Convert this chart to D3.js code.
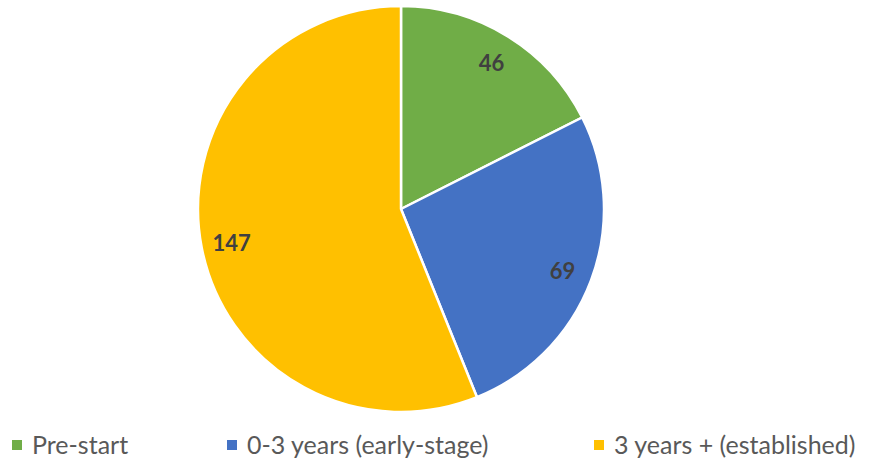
<!DOCTYPE html>
<html>
<head>
<meta charset="utf-8">
<script src="https://cdn.jsdelivr.net/npm/d3@7"></script>
<style>
  body { margin: 0; background: #fff; }
  svg { display: block; font-family: Lato, "Open Sans", sans-serif; }
</style>
</head>
<body>
<svg width="869" height="464"></svg>
<script>
	//data
	let categories = ["Pre-start", "0-3 years (early-stage)", "3 years + (established)"];
	let values = [46, 69, 147];
	let colorList = ["#70AD47", "#4472C4", "#FFC000"];

	let svg = d3.select("svg"),
		cx = 401,
		cy = 209,
		radius = 203;

	let color = d3.scaleOrdinal().domain(categories).range(colorList);

	let pie = d3.pie().sort(null).value(d => d.value);
	let arcs = pie(categories.map((c, i) => ({name: c, value: values[i]})));

	let arc = d3.arc().innerRadius(0).outerRadius(radius);
	let labelArc = d3.arc().innerRadius(radius * 0.85).outerRadius(radius * 0.85);

	let g = svg.append("g").attr("transform", "translate(" + cx + "," + cy + ")");

	g.selectAll(".slice").data(arcs).enter()
		.append("path")
		.attr("class", "slice")
		.attr("d", arc)
		.style("fill", d => color(d.data.name))
		.style("stroke", "#fff")
		.style("stroke-width", 2.5);

	g.selectAll(".label").data(arcs).enter()
		.append("text")
		.attr("class", "label")
		.attr("transform", d => "translate(" + labelArc.centroid(d) + ")")
		.attr("text-anchor", "middle")
		.attr("dy", "0.4em")
		.style("font-size", "22px")
		.style("font-weight", "bold")
		.style("fill", "#404040")
		.text(d => d.data.value);

	//legend
	let legendX = [12, 227, 594];
	let legend = svg.selectAll(".legend").data(categories).enter()
		.append("g")
		.attr("class", "legend")
		.attr("transform", (d, i) => "translate(" + legendX[i] + ",445)");

	legend.append("rect")
		.attr("x", 0)
		.attr("y", -5)
		.attr("width", 10)
		.attr("height", 10)
		.style("fill", d => color(d));

	legend.append("text")
		.attr("x", 20)
		.attr("dy", "0.36em")
		.style("font-size", "25px")
		.style("fill", "#595959")
		.text(d => d);
</script>
</body>
</html>
